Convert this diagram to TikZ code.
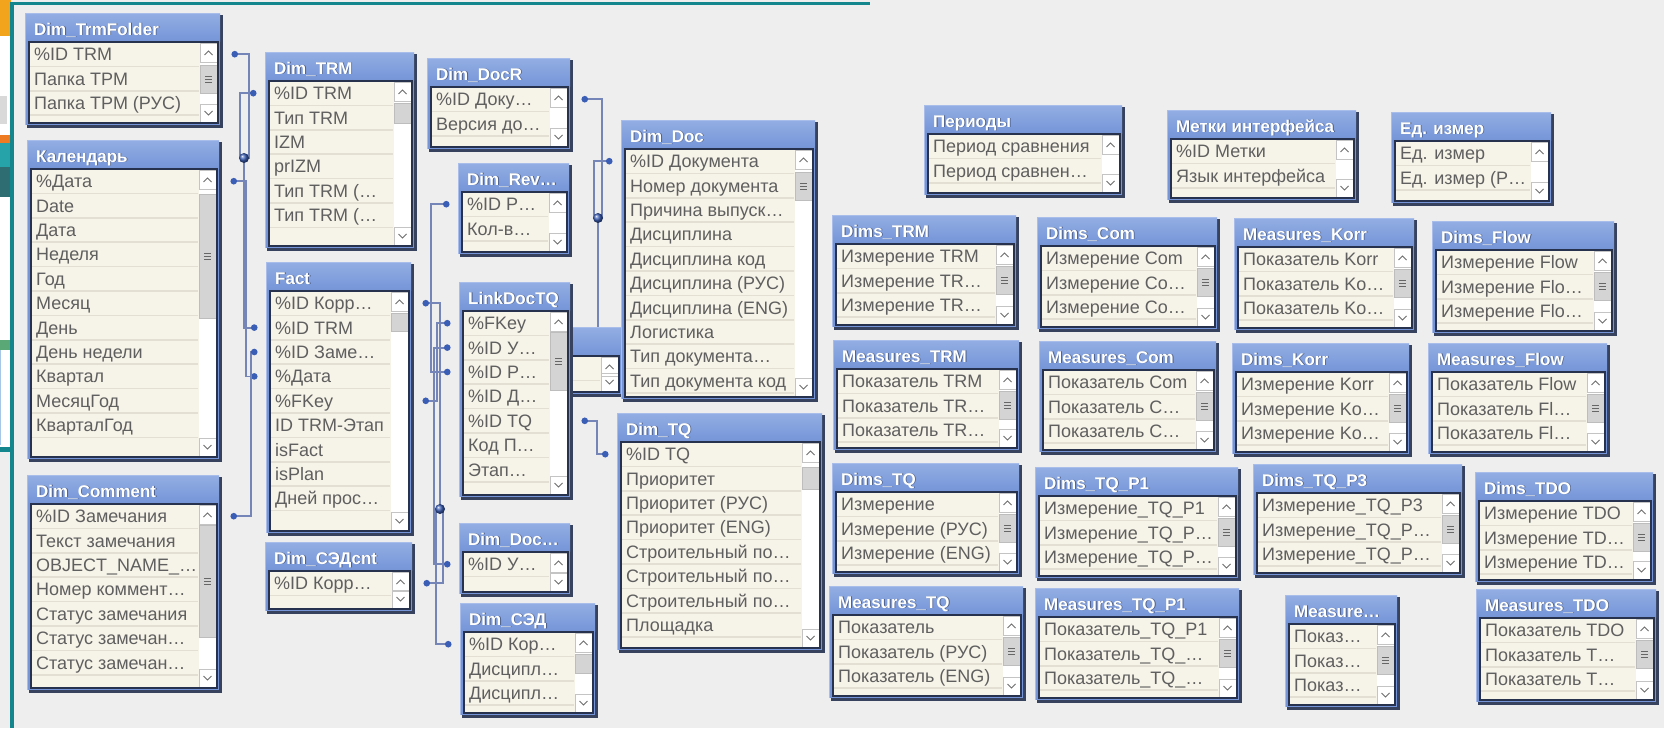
\documentclass[tikz,border=0pt]{standalone}
\usepackage{fontspec}
\setmainfont{Liberation Sans}
\usetikzlibrary{arrows.meta}

\pgfdeclarelayer{canvas}
\pgfdeclarelayer{links}
\pgfsetlayers{canvas,links,main}

\definecolor{canvasc}{HTML}{EEEEEE}
\definecolor{hdtop}{HTML}{93AEE3}
\definecolor{hdbot}{HTML}{7595D8}
\definecolor{hdedge}{HTML}{A8BDEA}
\definecolor{frdark}{HTML}{36425E}
\definecolor{lsborder}{HTML}{27324E}
\definecolor{rowbg}{HTML}{F6F3E8}
\definecolor{rowsepc}{HTML}{E3E0D3}
\definecolor{rowtxtc}{HTML}{5F5F5F}
\definecolor{titleshc}{HTML}{1E2A48}
\definecolor{sbboxc}{HTML}{C4C4C4}
\definecolor{chevc}{HTML}{6E6E6E}
\definecolor{thumbc}{HTML}{D4D4D4}
\definecolor{thumbedge}{HTML}{BDBDBD}
\definecolor{gripc}{HTML}{666666}
\definecolor{linkc}{HTML}{7585B8}
\definecolor{dotc}{HTML}{3A5DB5}
\definecolor{frameteal}{HTML}{12868C}
\definecolor{fragorange}{HTML}{F2A51C}
\definecolor{fragorangeb}{HTML}{EE7A22}
\definecolor{fragteal}{HTML}{26A3A8}
\definecolor{fragdark}{HTML}{2E6E72}
\definecolor{fraggray}{HTML}{D9D9D9}
\definecolor{fraggreen}{HTML}{5BA877}
\definecolor{fragblue}{HTML}{A7C7E7}

\begin{document}
\begin{tikzpicture}[x=1pt, y=-1pt,
        qdot/.tip={Circle[length=6.5pt,color=dotc]},
        link/.style={draw=linkc, line width=1.8pt},
        junc/.style={circle, inner sep=0pt, minimum size=10pt, ball color=dotc},
        tabspace/.style={anchor=north west, inner sep=0pt},
        rowtxt/.style={anchor=west, inner sep=0pt, text=rowtxtc, font=\fontsize{18}{21}\selectfont, text height=13pt, text depth=0pt},
        tabtitle/.style={anchor=west, inner sep=0pt, text=white, font=\bfseries\fontsize{17}{19}\selectfont, text height=12pt, text depth=0pt},
        titleshadow/.style={tabtitle, text=titleshc, opacity=0.55},
        rowsep/.style={draw=rowsepc, line width=1.5pt},
        sbbox/.style={draw=sbboxc, line width=0.8pt},
        chev/.style={draw=chevc, line width=0.9pt},
        thumb/.style={fill=thumbc, draw=thumbedge, line width=0.6pt},
        grip/.style={draw=gripc, line width=1pt}]
                \newcommand{\qtab}[9]{%
                    % #1 name, #2 x, #3 y, #4 width, #5 height, #6 title, #7 rows, #8 thumb offset, #9 thumb length
                    \begin{scope}[shift={(#2,#3)}]
                        \node[tabspace, minimum width=#4pt, minimum height=#5pt] (#1) at (0,0) {};
                        \fill[frdark] (2,2) rectangle (#4,#5);
                        \fill[hdbot] (0,0) rectangle (#4-3,#5-3);
                        \shade[top color=hdtop, bottom color=hdbot] (0,0) rectangle (#4-3,28);
                        \draw[hdedge] (0.5,#5-3) -- (0.5,0.5) -- (#4-3,0.5);
                        \fill[rowbg] (4,29) rectangle (#4-5,#5-5);
                        \foreach \txt [count=\i] in {#7} {
                            \pgfmathsetmacro{\yc}{29+(\i-0.5)*24.4}
                            \draw[rowsep] (5,\yc+12.2) -- (#4-24,\yc+12.2);
                            \node[rowtxt] (#1-r\i) at (9,\yc) {\txt};
                            \coordinate (#1-w\i) at (-8.5,\yc);
                            \coordinate (#1-e\i) at (#4+8.5,\yc);
                        }
                        % scroll bar
                        \fill[white] (#4-23,30) rectangle (#4-6,#5-6);
                        \ifdim #9pt>0pt
                            \filldraw[thumb] (#4-23,29+#8) rectangle (#4-6,29+#8+#9);
                            \ifdim #9pt>23pt
                                \pgfmathsetmacro{\gy}{29+#8+#9/2}
                                \draw[grip] (#4-18,\gy-3) -- (#4-11,\gy-3);
                                \draw[grip] (#4-18,\gy) -- (#4-11,\gy);
                                \draw[grip] (#4-18,\gy+3) -- (#4-11,\gy+3);
                            \fi
                        \fi
                        \draw[sbbox] (#4-23,30.5) rectangle (#4-6,49);
                        \draw[chev] (#4-18.5,42) -- (#4-14.5,38) -- (#4-10.5,42);
                        \draw[sbbox] (#4-23,#5-24) rectangle (#4-6,#5-6);
                        \draw[chev] (#4-18.5,#5-17) -- (#4-14.5,#5-13) -- (#4-10.5,#5-17);
                        \draw[lsborder, line width=2pt] (4,29) rectangle (#4-5,#5-5);
                        \node[titleshadow] (#1-ts) at (9.8,16.8) {#6};
                        \node[tabtitle] (#1-t) at (9,16) {#6};
                    \end{scope}}

                \useasboundingbox (0,0) rectangle (1664,728);

                % Draw background and window edge
                \begin{pgfonlayer}{canvas}
                    \fill[canvasc] (0,0) rectangle (1664,728);
                    \fill[white] (0,0) rectangle (11,452);
                    \fill[fragorange] (0,0) rectangle (11,36);
                    \fill[fraggray] (0,96) rectangle (7,124);
                    \fill[fragorangeb] (0,135) rectangle (11,143);
                    \fill[fragteal] (0,143) rectangle (11,167);
                    \fill[fragdark] (0,167) rectangle (11,197);
                    \fill[fraggreen] (0,340) rectangle (11,350);
                    \draw[fragblue, line width=1pt] (0,350) -- (0,445);
                    \fill[frameteal] (0,447) rectangle (11,452);
                    \fill[frameteal] (10,1.5) rectangle (14,728);
                    \fill[frameteal] (10,1.5) rectangle (870,4.5);
                \end{pgfonlayer}

                % Draw tables, left group
                \qtab{trmfolder}{25}{13}{198}{115}{Dim\_TrmFolder}{\%ID TRM,Папка ТРМ,Папка ТРМ (РУС)}{23}{28}
                \qtab{cal}{27}{140}{195}{322}{Календарь}{\%Дата,Date,Дата,Неделя,Год,Месяц,День,День недели,Квартал,МесяцГод,КварталГод}{25}{124}
                \qtab{comment}{27}{475}{195}{218}{Dim\_Comment}{\%ID Замечания,Текст замечания,OBJECT\_NAME\_…,Номер коммент…,Статус замечания,Статус замечан…,Статус замечан…}{21}{112}
                \qtab{trm}{265}{52}{152}{199}{Dim\_TRM}{\%ID TRM,Тип TRM,IZM,prIZM,Тип TRM (…,Тип TRM (…}{22}{20}
                \qtab{fact}{266}{262}{148}{274}{Fact}{\%ID Корр…,\%ID TRM,\%ID Заме…,\%Дата,\%FKey,ID TRM-Этап,isFact,isPlan,Дней прос…}{22}{18}
                \qtab{sedcnt}{265}{542}{150}{72}{Dim\_СЭДcnt}{\%ID Корр…}{0}{0}

                % Draw tables, middle group
                \qtab{docr}{427}{58}{146}{94}{Dim\_DocR}{\%ID Доку…,Версия до…}{0}{0}
                \qtab{rev}{458}{163}{114}{94}{Dim\_Rev…}{\%ID Р…,Кол-в…}{0}{0}
                \qtab{hid}{520}{327}{104}{70}{}{\relax}{0}{0}
                \qtab{link}{459}{282}{114}{218}{LinkDocTQ}{\%FKey,\%ID У…,\%ID Р…,\%ID Д…,\%ID TQ,Код П…,Этап…}{21}{58}
                \qtab{doc}{621}{120}{197}{282}{Dim\_Doc}{\%ID Документа,Номер документа,Причина выпуск…,Дисциплина,Дисциплина код,Дисциплина (РУС),Дисциплина (ENG),Логистика,Тип документа…,Тип документа код}{23}{28}
                \qtab{tq}{617}{413}{208}{240}{Dim\_TQ}{\%ID TQ,Приоритет,Приоритет (РУС),Приоритет (ENG),Строительный по…,Строительный по…,Строительный по…,Площадка}{25}{22}
                \qtab{docu}{459}{523}{114}{74}{Dim\_Doc…}{\%ID У…}{0}{0}
                \qtab{sed}{460}{603}{138}{115}{Dim\_СЭД}{\%ID Кор…,Дисципл…,Дисципл…}{22}{19}

                % Draw tables, right group
                \qtab{per}{924}{105}{201}{93}{Периоды}{Период сравнения,Период сравнен…}{0}{0}
                \qtab{lbl}{1167}{110}{192}{93}{Метки интерфейса}{\%ID Метки,Язык интерфейса}{0}{0}
                \qtab{unit}{1391}{112}{163}{94}{Ед. измер}{Ед. измер,Ед. измер (Р…}{0}{0}
                \qtab{dtrm}{832}{215}{187}{115}{Dims\_TRM}{Измерение TRM,Измерение TR…,Измерение TR…}{22}{28}
                \qtab{dcom}{1037}{217}{183}{115}{Dims\_Com}{Измерение Com,Измерение Co…,Измерение Co…}{22}{28}
                \qtab{mkorr}{1234}{218}{183}{115}{Measures\_Korr}{Показатель Korr,Показатель Ko…,Показатель Ko…}{22}{28}
                \qtab{dflow}{1432}{221}{185}{115}{Dims\_Flow}{Измерение Flow,Измерение Flo…,Измерение Flo…}{22}{28}
                \qtab{mtrm}{833}{340}{189}{113}{Measures\_TRM}{Показатель TRM,Показатель TR…,Показатель TR…}{22}{28}
                \qtab{mcom}{1039}{341}{180}{114}{Measures\_Com}{Показатель Com,Показатель C…,Показатель C…}{22}{28}
                \qtab{dkorr}{1232}{343}{180}{114}{Dims\_Korr}{Измерение Korr,Измерение Ko…,Измерение Ko…}{22}{28}
                \qtab{mflow}{1428}{343}{182}{114}{Measures\_Flow}{Показатель Flow,Показатель Fl…,Показатель Fl…}{22}{28}
                \qtab{dtq}{832}{463}{190}{114}{Dims\_TQ}{Измерение,Измерение (РУС),Измерение (ENG)}{22}{28}
                \qtab{dtqa}{1035}{467}{206}{114}{Dims\_TQ\_P1}{Измерение\_TQ\_P1,Измерение\_TQ\_P…,Измерение\_TQ\_P…}{22}{28}
                \qtab{dtqc}{1253}{464}{212}{114}{Dims\_TQ\_P3}{Измерение\_TQ\_P3,Измерение\_TQ\_P…,Измерение\_TQ\_P…}{22}{28}
                \qtab{dtdo}{1475}{472}{181}{113}{Dims\_TDO}{Измерение TDO,Измерение TD…,Измерение TD…}{22}{28}
                \qtab{mtq}{829}{586}{197}{115}{Measures\_TQ}{Показатель,Показатель (РУС),Показатель (ENG)}{22}{28}
                \qtab{mtqa}{1035}{588}{207}{115}{Measures\_TQ\_P1}{Показатель\_TQ\_P1,Показатель\_TQ\_…,Показатель\_TQ\_…}{22}{28}
                \qtab{mx}{1285}{595}{115}{115}{Measure…}{Показ…,Показ…,Показ…}{22}{28}
                \qtab{mtdo}{1476}{589}{183}{116}{Measures\_TDO}{Показатель TDO,Показатель T…,Показатель T…}{22}{28}

                % Draw key links
                \begin{pgfonlayer}{links}
                    \coordinate (ktrm) at (240,0);
                    \coordinate (kdate) at (246,0);
                    \coordinate (ktf) at (249,0);
                    \coordinate (kcom) at (251,0);
                    \coordinate (krev) at (431,0);
                    \coordinate (kdu) at (434,0);
                    \coordinate (ksed) at (436,0);
                    \coordinate (kfk) at (437,0);
                    \coordinate (kcnt) at (443,0);
                    \coordinate (kdd) at (594,0);
                    \coordinate (ktq) at (597,0);
                    \coordinate (kdr) at (602,0);
                    \coordinate (jtrm) at (244,158);
                    \coordinate (jkorr) at (440,509);
                    \coordinate (jdoc) at (598,218);

                    \draw[link, qdot-] (trmfolder-e1) -| (ktf |- jtrm) -- (jtrm);
                    \draw[link, qdot-] (trm-w1) -| (ktrm |- jtrm) -- (jtrm);
                    \draw[link, -qdot] (jtrm) |- (fact-w2);
                    \draw[link, qdot-qdot] (cal-e1) -| (kdate |- fact-w4) -- (fact-w4);
                    \draw[link, qdot-qdot] (comment-e1) -| (kcom |- fact-w3) -- (fact-w3);

                    \draw[link, qdot-] (fact-e1) -| (jkorr);
                    \draw[link, qdot-] (sedcnt-e1) -| (kcnt |- jkorr) -- (jkorr);
                    \draw[link, qdot-] (sed-w1) -| (ksed |- jkorr) -- (jkorr);
                    \draw[link, qdot-qdot] (fact-e5) -| (kfk |- link-w1) -- (link-w1);
                    \draw[link, qdot-qdot] (rev-w1) -| (krev |- link-w3) -- (link-w3);
                    \draw[link, qdot-qdot] (docu-w1) -| (kdu |- link-w2) -- (link-w2);

                    \draw[link, qdot-] (docr-e1) -| (kdr |- jdoc) -- (jdoc);
                    \draw[link, qdot-] (doc-w1) -| (kdd |- jdoc) -- (jdoc);
                    \draw[link] (jdoc) -- (jdoc |- hid.center);
                    \draw[link, qdot-qdot] (link-e5) -| (ktq |- tq-w1) -- (tq-w1);

                    % Draw junction dots
                    \node[junc] (jtrm-dot) at (jtrm) {};
                    \node[junc] (jkorr-dot) at (jkorr) {};
                    \node[junc] (jdoc-dot) at (jdoc) {};
                \end{pgfonlayer}
            \end{tikzpicture}
\end{document}
